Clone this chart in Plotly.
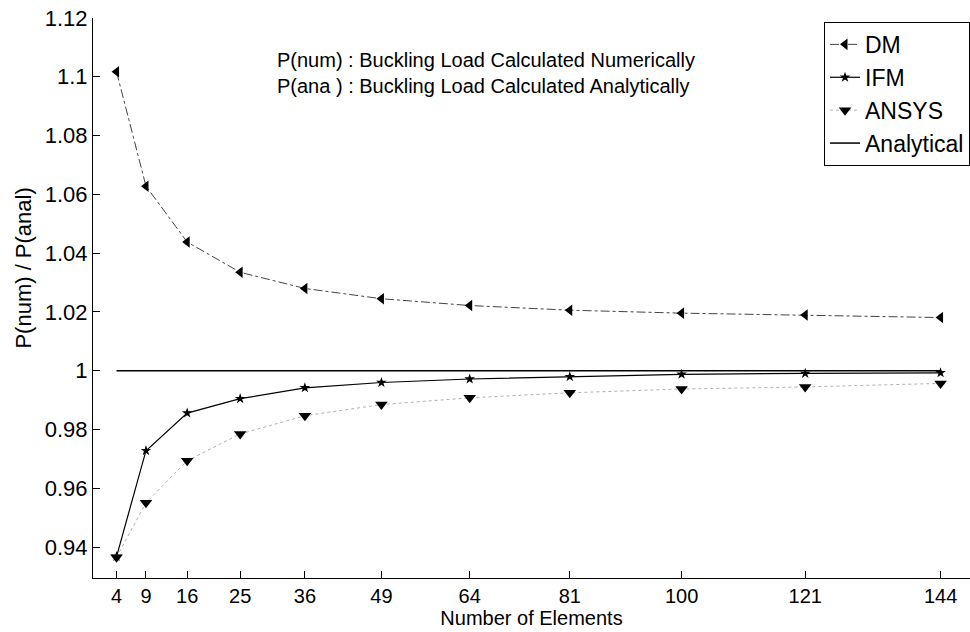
import plotly.graph_objects as go

# Mesh sizes (number of elements) and normalised buckling loads
elements = [4, 9, 16, 25, 36, 49, 64, 81, 100, 121, 144]
dm = [1.1017, 1.0628, 1.0438, 1.0335, 1.0280, 1.0245, 1.0222, 1.0206, 1.0196, 1.0190, 1.0181]
ifm = [0.9368, 0.9728, 0.9856, 0.9905, 0.9942, 0.9960, 0.9972, 0.9980, 0.9988, 0.9991, 0.9993]
ansys = [0.9366, 0.9551, 0.9694, 0.9785, 0.9847, 0.9885, 0.9908, 0.9925, 0.9938, 0.9945, 0.9957]
analytical = [1.0] * len(elements)

y_ticks = [0.94, 0.96, 0.98, 1.0, 1.02, 1.04, 1.06, 1.08, 1.10, 1.12]
y_tick_text = ["0.94", "0.96", "0.98", "1", "1.02", "1.04", "1.06", "1.08", "1.1", "1.12"]

FONT = "Liberation Sans, Arial, sans-serif"

fig = go.Figure()

fig.add_trace(go.Scatter(
    x=elements, y=dm, name="DM", mode="lines+markers",
    line=dict(color="#444444", width=1, dash="dashdot"),
    marker=dict(symbol="triangle-left", size=10, color="black"),
))
fig.add_trace(go.Scatter(
    x=elements, y=ifm, name="IFM", mode="lines+markers",
    line=dict(color="black", width=1.2),
    marker=dict(symbol="star", size=8, color="black"),
))
fig.add_trace(go.Scatter(
    x=elements, y=ansys, name="ANSYS", mode="lines+markers",
    line=dict(color="#b0b0b0", width=1, dash="dot"),
    marker=dict(symbol="triangle-down", size=11, color="black"),
))
fig.add_trace(go.Scatter(
    x=elements, y=analytical, name="Analytical", mode="lines",
    line=dict(color="black", width=1.5),
))

# Explanatory note in the upper part of the axes
fig.add_annotation(
    xref="paper", yref="paper", x=0.207, y=0.902,
    xanchor="left", yanchor="middle", align="left", showarrow=False,
    text="P(num) : Buckling Load Calculated Numerically<br>"
         "P(ana ) : Buckling Load Calculated Analytically",
    font=dict(family=FONT, size=20, color="black"),
)

# Y-axis label, placed a little above the axis centre
fig.add_annotation(
    xref="paper", yref="y", x=-0.079, y=1.035,
    xanchor="center", yanchor="middle", textangle=-90, showarrow=False,
    text="P(num) / P(anal)",
    font=dict(family=FONT, size=22, color="black"),
)

fig.update_layout(
    width=970, height=632,
    margin=dict(l=93, r=0, t=18, b=54),
    paper_bgcolor="white", plot_bgcolor="white",
    font=dict(family=FONT, size=21, color="black"),
    showlegend=True,
    legend=dict(
        x=1.0, xanchor="right", y=0.993, yanchor="top",
        bgcolor="white", bordercolor="black", borderwidth=1,
        font=dict(family=FONT, size=23, color="black"),
        tracegroupgap=0, itemwidth=30,
    ),
    xaxis=dict(
        range=[0, 149], tickmode="array", tickvals=elements,
        ticktext=[str(e) for e in elements],
        ticks="inside", ticklen=7, tickcolor="black", tickwidth=1,
        showline=True, linecolor="black", linewidth=1,
        showgrid=False, zeroline=False, mirror=False,
        title=dict(text="Number of Elements", standoff=4,
                   font=dict(family=FONT, size=20)),
        tickfont=dict(family=FONT, size=20),
    ),
    yaxis=dict(
        range=[0.9295, 1.12], tickmode="array", tickvals=y_ticks,
        ticktext=y_tick_text,
        ticks="inside", ticklen=7, tickcolor="black", tickwidth=1,
        showline=True, linecolor="black", linewidth=1,
        showgrid=False, zeroline=False, mirror=False,
        tickfont=dict(family=FONT, size=22),
    ),
)

fig.write_html("out.html")
